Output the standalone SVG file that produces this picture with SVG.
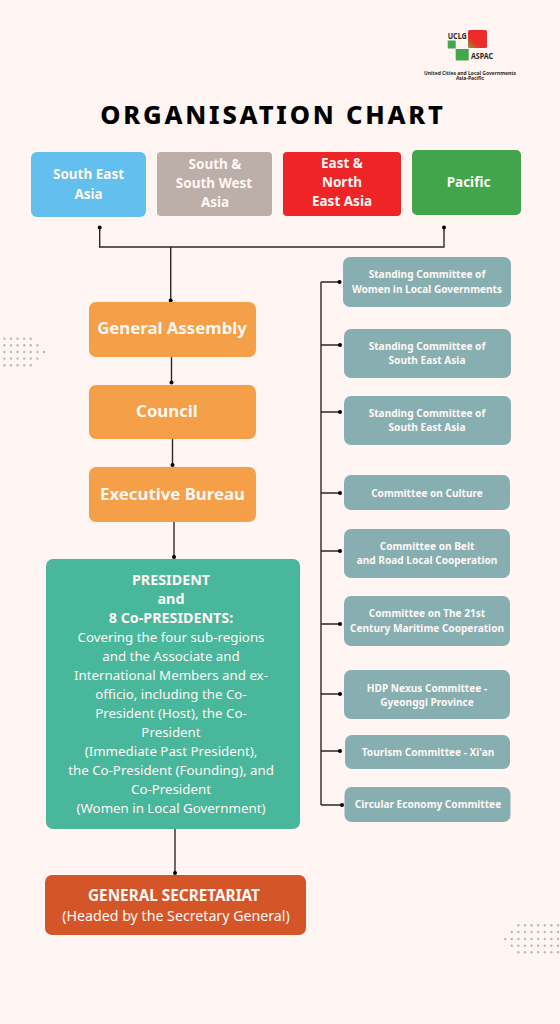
<svg xmlns="http://www.w3.org/2000/svg" width="560" height="1024" viewBox="0 0 560 1024">
<defs>
<g id="dl"><circle cx="4.4" cy="0" r="1.2" /><circle cx="11" cy="0" r="1.2" /><circle cx="17.6" cy="0" r="1.2" /><circle cx="24.2" cy="0" r="1.2" /><circle cx="30.8" cy="0" r="1.2" /></g>
<g id="dr"><circle cx="518.4" cy="0" r="1.2" /><circle cx="525" cy="0" r="1.2" /><circle cx="531.6" cy="0" r="1.2" /><circle cx="538.2" cy="0" r="1.2" /><circle cx="544.8" cy="0" r="1.2" /><circle cx="551.4" cy="0" r="1.2" /><circle cx="558" cy="0" r="1.2" /></g>
<linearGradient id="lg" x1="0" y1="1" x2="1" y2="0"><stop offset="0" stop-color="#8a9a30"/><stop offset="0.35" stop-color="#ee2b2b"/><stop offset="1" stop-color="#ee2b2b"/></linearGradient>
</defs>
<style>
text{font-family:"Noto Sans","Liberation Sans",sans-serif;text-anchor:middle;fill:#fff8f5}
.b{font-weight:700}
.r{font-size:13.5px;font-weight:700}
.m{font-size:16.8px;font-weight:700}
.c{font-size:10.1px;font-weight:700}
.p{font-size:13.3px}
.pb{font-size:14.3px;font-weight:700}
.t{fill:#000;font-weight:800;font-size:25.5px;letter-spacing:2.8px}
.l{fill:#2a2a2a;font-weight:700}
.ln{fill:none;stroke:#2a2a2a;stroke-width:1.4}
.dots{fill:#c4b5b3}
</style>
<rect width="560" height="1024" fill="#fff6f3"/>
<g id="logo">
<rect x="468" y="30" width="19" height="18" rx="1.5" fill="url(#lg)"/>
<rect x="447.700" y="40.500" width="8" height="8" fill="#43a84a"/>
<rect x="455.700" y="49" width="13" height="11.500" fill="#43a84a"/>
<text class="l" x="457.200" y="39" font-size="9.500" textLength="19" lengthAdjust="spacingAndGlyphs">UCLG</text>
<text class="l" x="482" y="59.300" font-size="9.500" textLength="22" lengthAdjust="spacingAndGlyphs">ASPAC</text>
<text class="l" x="470" y="74.500" font-size="5">United Cities and Local Governments</text>
<text class="l" x="470" y="79.500" font-size="5">Asia-Pacific</text>
</g>
<g id="title"><text class="t" x="273" y="124">ORGANISATION CHART</text></g>
<g id="decor" class="dots">
<use href="#dl" y="338.700"/><use href="#dl" y="345.300"/><circle cx="37.400" cy="345.300" r="1.2"/><use href="#dl" y="352"/><circle cx="37.400" cy="352" r="1.2"/><circle cx="44" cy="352" r="1.2"/><use href="#dl" y="358.600"/><circle cx="37.400" cy="358.600" r="1.2"/><use href="#dl" y="365.300"/>
<use href="#dr" y="925.300"/><use href="#dr" y="932"/><circle cx="511.800" cy="932" r="1.2"/><use href="#dr" y="939"/><circle cx="511.800" cy="939" r="1.2"/><circle cx="505.200" cy="939" r="1.2"/><use href="#dr" y="945.700"/><circle cx="511.800" cy="945.700" r="1.2"/><use href="#dr" y="952.300"/>
</g>
<g id="connectors">
<path class="ln" d="M99.700 228V247H444V227.500"/>
<path class="ln" d="M170.700 247V301"/>
<path class="ln" d="M171.500 357V384"/>
<path class="ln" d="M172.500 439V466"/>
<path class="ln" d="M174 522V557"/>
<path class="ln" d="M175 829V873"/>
<path class="ln" d="M321 282V805"/>
<path class="ln" d="M321 282H339.500M321 345H340M321 412H340M321 493H340M321 551H340M321 624H340M321 694H340M321 751H340M321 805H342"/>
<g fill="#000"><circle cx="99.700" cy="227.500" r="2"/><circle cx="444" cy="227.500" r="2"/><circle cx="170.700" cy="300.500" r="2"/><circle cx="171.500" cy="382.500" r="2"/><circle cx="172.500" cy="465" r="2"/><circle cx="174" cy="557" r="2"/><circle cx="175" cy="873" r="2"/><circle cx="339.500" cy="282" r="2"/><circle cx="340" cy="345" r="2"/><circle cx="340" cy="412" r="2"/><circle cx="340" cy="493" r="2"/><circle cx="340" cy="551" r="2"/><circle cx="340" cy="624" r="2"/><circle cx="340" cy="694" r="2"/><circle cx="340" cy="751" r="2"/><circle cx="342" cy="805" r="2"/></g>
</g>
<g id="region-sea"><rect x="31" y="152" width="115" height="65" rx="6" fill="#62bfee"/><text class="r"><tspan x="88.500" y="179">South East</tspan><tspan x="88.500" y="199">Asia</tspan></text></g>
<g id="region-ssw"><rect x="157" y="152" width="115" height="64" rx="4" fill="#bcaea9"/><text class="r"><tspan x="215" y="169">South &amp;</tspan><tspan x="214" y="188">South West</tspan><tspan x="215" y="207">Asia</tspan></text></g>
<g id="region-ene"><rect x="283" y="152" width="118" height="64" rx="4" fill="#ee2427"/><text class="r"><tspan x="342" y="168">East &amp;</tspan><tspan x="342" y="187">North</tspan><tspan x="342" y="206">East Asia</tspan></text></g>
<g id="region-pacific"><rect x="412" y="150" width="109" height="65" rx="5" fill="#41a64b"/><text class="r" x="468.500" y="187">Pacific</text></g>
<g id="general-assembly"><rect x="89" y="302" width="167" height="55" rx="7" fill="#f59f49"/><text class="m" x="172" y="334">General Assembly</text></g>
<g id="council"><rect x="89" y="385" width="167" height="54" rx="7" fill="#f59f49"/><text class="m" x="167" y="417">Council</text></g>
<g id="executive-bureau"><rect x="89" y="467" width="167" height="55" rx="7" fill="#f59f49"/><text class="m" x="172.500" y="500">Executive Bureau</text></g>
<g id="president"><rect x="46" y="559" width="254" height="270" rx="7" fill="#49b79b"/>
<text class="p"><tspan class="pb" x="171" y="585">PRESIDENT</tspan><tspan class="pb" x="171" y="604">and</tspan><tspan class="pb" x="171" y="623">8 Co-PRESIDENTS:</tspan><tspan x="171" y="642">Covering the four sub-regions</tspan><tspan x="171" y="661">and the Associate and</tspan><tspan x="171" y="680">International Members and ex-</tspan><tspan x="171" y="699">officio, including the Co-</tspan><tspan x="171" y="718">President (Host), the Co-</tspan><tspan x="171" y="737">President</tspan><tspan x="171" y="756">(Immediate Past President),</tspan><tspan x="171" y="775">the Co-President (Founding), and</tspan><tspan x="171" y="794">Co-President</tspan><tspan x="171" y="813">(Women in Local Government)</tspan></text></g>
<g id="secretariat"><rect x="45" y="875" width="261" height="60" rx="7" fill="#d45628"/><text><tspan font-size="15.300" font-weight="700" x="174" y="901">GENERAL SECRETARIAT</tspan><tspan font-size="14.200" x="176" y="921">(Headed by the Secretary General)</tspan></text></g>
<g id="committee-1"><rect x="343" y="257" width="168" height="50" rx="7" fill="#87afb2"/><text class="c"><tspan x="427" y="278">Standing Committee of</tspan><tspan x="427" y="293">Women in Local Governments</tspan></text></g>
<g id="committee-2"><rect x="344" y="329" width="167" height="49" rx="7" fill="#87afb2"/><text class="c"><tspan x="427" y="350">Standing Committee of</tspan><tspan x="427" y="364">South East Asia</tspan></text></g>
<g id="committee-3"><rect x="344" y="396" width="167" height="49" rx="7" fill="#87afb2"/><text class="c"><tspan x="427" y="417">Standing Committee of</tspan><tspan x="427" y="431">South East Asia</tspan></text></g>
<g id="committee-4"><rect x="344" y="475" width="166" height="35" rx="7" fill="#87afb2"/><text class="c" x="427" y="497">Committee on Culture</text></g>
<g id="committee-5"><rect x="344" y="529" width="166" height="49" rx="7" fill="#87afb2"/><text class="c"><tspan x="427" y="550">Committee on Belt</tspan><tspan x="427" y="564">and Road Local Cooperation</tspan></text></g>
<g id="committee-6"><rect x="344" y="596" width="166" height="50" rx="7" fill="#87afb2"/><text class="c"><tspan x="427" y="617">Committee on The 21st</tspan><tspan x="427" y="632">Century Maritime Cooperation</tspan></text></g>
<g id="committee-7"><rect x="344" y="670" width="166" height="49" rx="7" fill="#87afb2"/><text class="c"><tspan x="427" y="692">HDP Nexus Committee -</tspan><tspan x="427" y="706">Gyeonggi Province</tspan></text></g>
<g id="committee-8"><rect x="345" y="735" width="165" height="34" rx="7" fill="#87afb2"/><text class="c" x="428" y="756">Tourism Committee - Xi'an</text></g>
<g id="committee-9"><rect x="344.500" y="787" width="166" height="35" rx="7" fill="#87afb2"/><text class="c" x="428" y="808">Circular Economy Committee</text></g>
</svg>
